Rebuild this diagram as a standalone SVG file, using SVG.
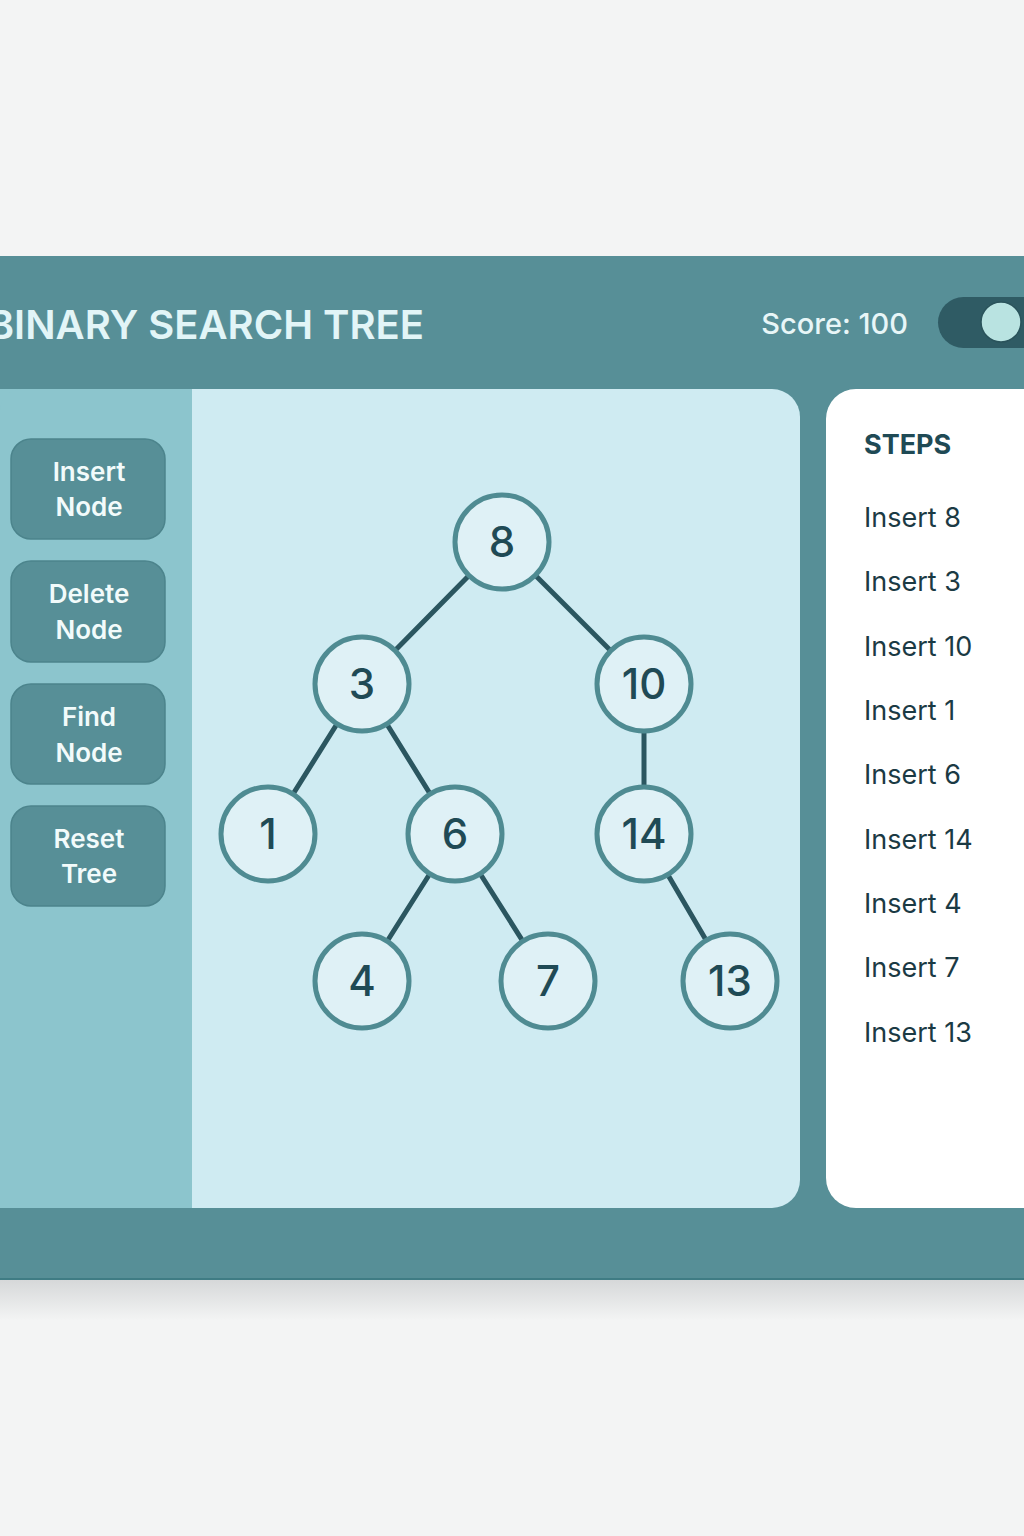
<svg xmlns="http://www.w3.org/2000/svg" width="1024" height="1536" viewBox="0 0 1024 1536">
<defs>
<linearGradient id="sh" x1="0" y1="0" x2="0" y2="1"><stop offset="0" stop-color="#d6d8d9"/><stop offset="1" stop-color="#f3f4f4"/></linearGradient>
<style>
.btn{fill:#578f97;stroke:#4c848c;stroke-width:1.5}
.btxt{font-family:Inter,"Liberation Sans",sans-serif;font-size:26px;font-weight:600;fill:#f2fbfb;text-anchor:middle}
.node{fill:#dff1f6;stroke:#4f8b92;stroke-width:5}
.ntxt{font-family:Inter,"Liberation Sans",sans-serif;font-size:42px;font-weight:500;fill:#1f4a55;text-anchor:middle}
.edge{stroke:#2b5660;stroke-width:5;stroke-linecap:round}
.step{font-family:Inter,"Liberation Sans",sans-serif;font-size:27px;fill:#1b3a44}
</style>
</defs>
<rect width="1024" height="1536" fill="#f3f4f4"/>
<rect x="0" y="1280" width="1024" height="40" fill="url(#sh)"/>
<rect x="0" y="256" width="1024" height="1024" fill="#578f97"/>
<line x1="0" y1="1279" x2="1024" y2="1279" stroke="#3f7c84" stroke-width="2"/>
<g id="header">
<text x="424" y="339" text-anchor="end" font-family="Inter,'Liberation Sans',sans-serif" font-size="40" font-weight="600" fill="#e2f5f7">BINARY SEARCH TREE</text>
<text x="908" y="334" text-anchor="end" font-family="Inter,'Liberation Sans',sans-serif" font-size="29" font-weight="500" fill="#e8f6f7">Score: 100</text>
<rect x="938" y="297" width="110" height="51" rx="25.5" fill="#2f5b64"/>
<circle cx="1001" cy="322" r="20" fill="#b9e3e1" stroke="#2a535b" stroke-width="1.5"/>
</g>
<g id="main-panel">
<rect x="-30" y="389" width="830" height="819" rx="28" fill="#cfebf2"/>
<path d="M-30 389 H192 V1208 H-30 Z" fill="#8cc5cd"/>
<path d="M0 410 Q2 391 22 389 H192 V1208 H0 Z" fill="#8cc5cd"/>
</g>
<g id="btn-insert"><rect class="btn" x="11" y="439" width="154" height="100" rx="20"/><text class="btxt" x="89" y="481">Insert</text><text class="btxt" x="89" y="516">Node</text></g>
<g id="btn-delete"><rect class="btn" x="11" y="561" width="154" height="101" rx="20"/><text class="btxt" x="89" y="603">Delete</text><text class="btxt" x="89" y="639">Node</text></g>
<g id="btn-find"><rect class="btn" x="11" y="684" width="154" height="100" rx="20"/><text class="btxt" x="89" y="726">Find</text><text class="btxt" x="89" y="762">Node</text></g>
<g id="btn-reset"><rect class="btn" x="11" y="806" width="154" height="100" rx="20"/><text class="btxt" x="89" y="848">Reset</text><text class="btxt" x="89" y="883">Tree</text></g>
<g id="steps-panel">
<rect x="826" y="389" width="240" height="819" rx="30" fill="#ffffff"/>
<text x="864" y="454" font-family="Inter,'Liberation Sans',sans-serif" font-size="27" font-weight="700" fill="#1f4a55">STEPS</text>
<text class="step" x="864" y="527">Insert 8</text>
<text class="step" x="864" y="591">Insert 3</text>
<text class="step" x="864" y="656">Insert 10</text>
<text class="step" x="864" y="720">Insert 1</text>
<text class="step" x="864" y="784">Insert 6</text>
<text class="step" x="864" y="849">Insert 14</text>
<text class="step" x="864" y="913">Insert 4</text>
<text class="step" x="864" y="977">Insert 7</text>
<text class="step" x="864" y="1042">Insert 13</text>
</g>
<g id="connectors">
<line class="edge" x1="502" y1="542" x2="362" y2="684"/>
<line class="edge" x1="502" y1="542" x2="644" y2="684"/>
<line class="edge" x1="362" y1="684" x2="268" y2="834"/>
<line class="edge" x1="362" y1="684" x2="455" y2="834"/>
<line class="edge" x1="644" y1="684" x2="644" y2="834"/>
<line class="edge" x1="455" y1="834" x2="362" y2="981"/>
<line class="edge" x1="455" y1="834" x2="548" y2="981"/>
<line class="edge" x1="644" y1="834" x2="730" y2="981"/>
</g>
<g id="n8"><circle class="node" cx="502" cy="542" r="47"/><text class="ntxt" x="502" y="557">8</text></g>
<g id="n3"><circle class="node" cx="362" cy="684" r="47"/><text class="ntxt" x="362" y="699">3</text></g>
<g id="n10"><circle class="node" cx="644" cy="684" r="47"/><text class="ntxt" x="644" y="699">10</text></g>
<g id="n1"><circle class="node" cx="268" cy="834" r="47"/><text class="ntxt" x="268" y="849">1</text></g>
<g id="n6"><circle class="node" cx="455" cy="834" r="47"/><text class="ntxt" x="455" y="849">6</text></g>
<g id="n14"><circle class="node" cx="644" cy="834" r="47"/><text class="ntxt" x="644" y="849">14</text></g>
<g id="n4"><circle class="node" cx="362" cy="981" r="47"/><text class="ntxt" x="362" y="996">4</text></g>
<g id="n7"><circle class="node" cx="548" cy="981" r="47"/><text class="ntxt" x="548" y="996">7</text></g>
<g id="n13"><circle class="node" cx="730" cy="981" r="47"/><text class="ntxt" x="730" y="996">13</text></g>
</svg>
